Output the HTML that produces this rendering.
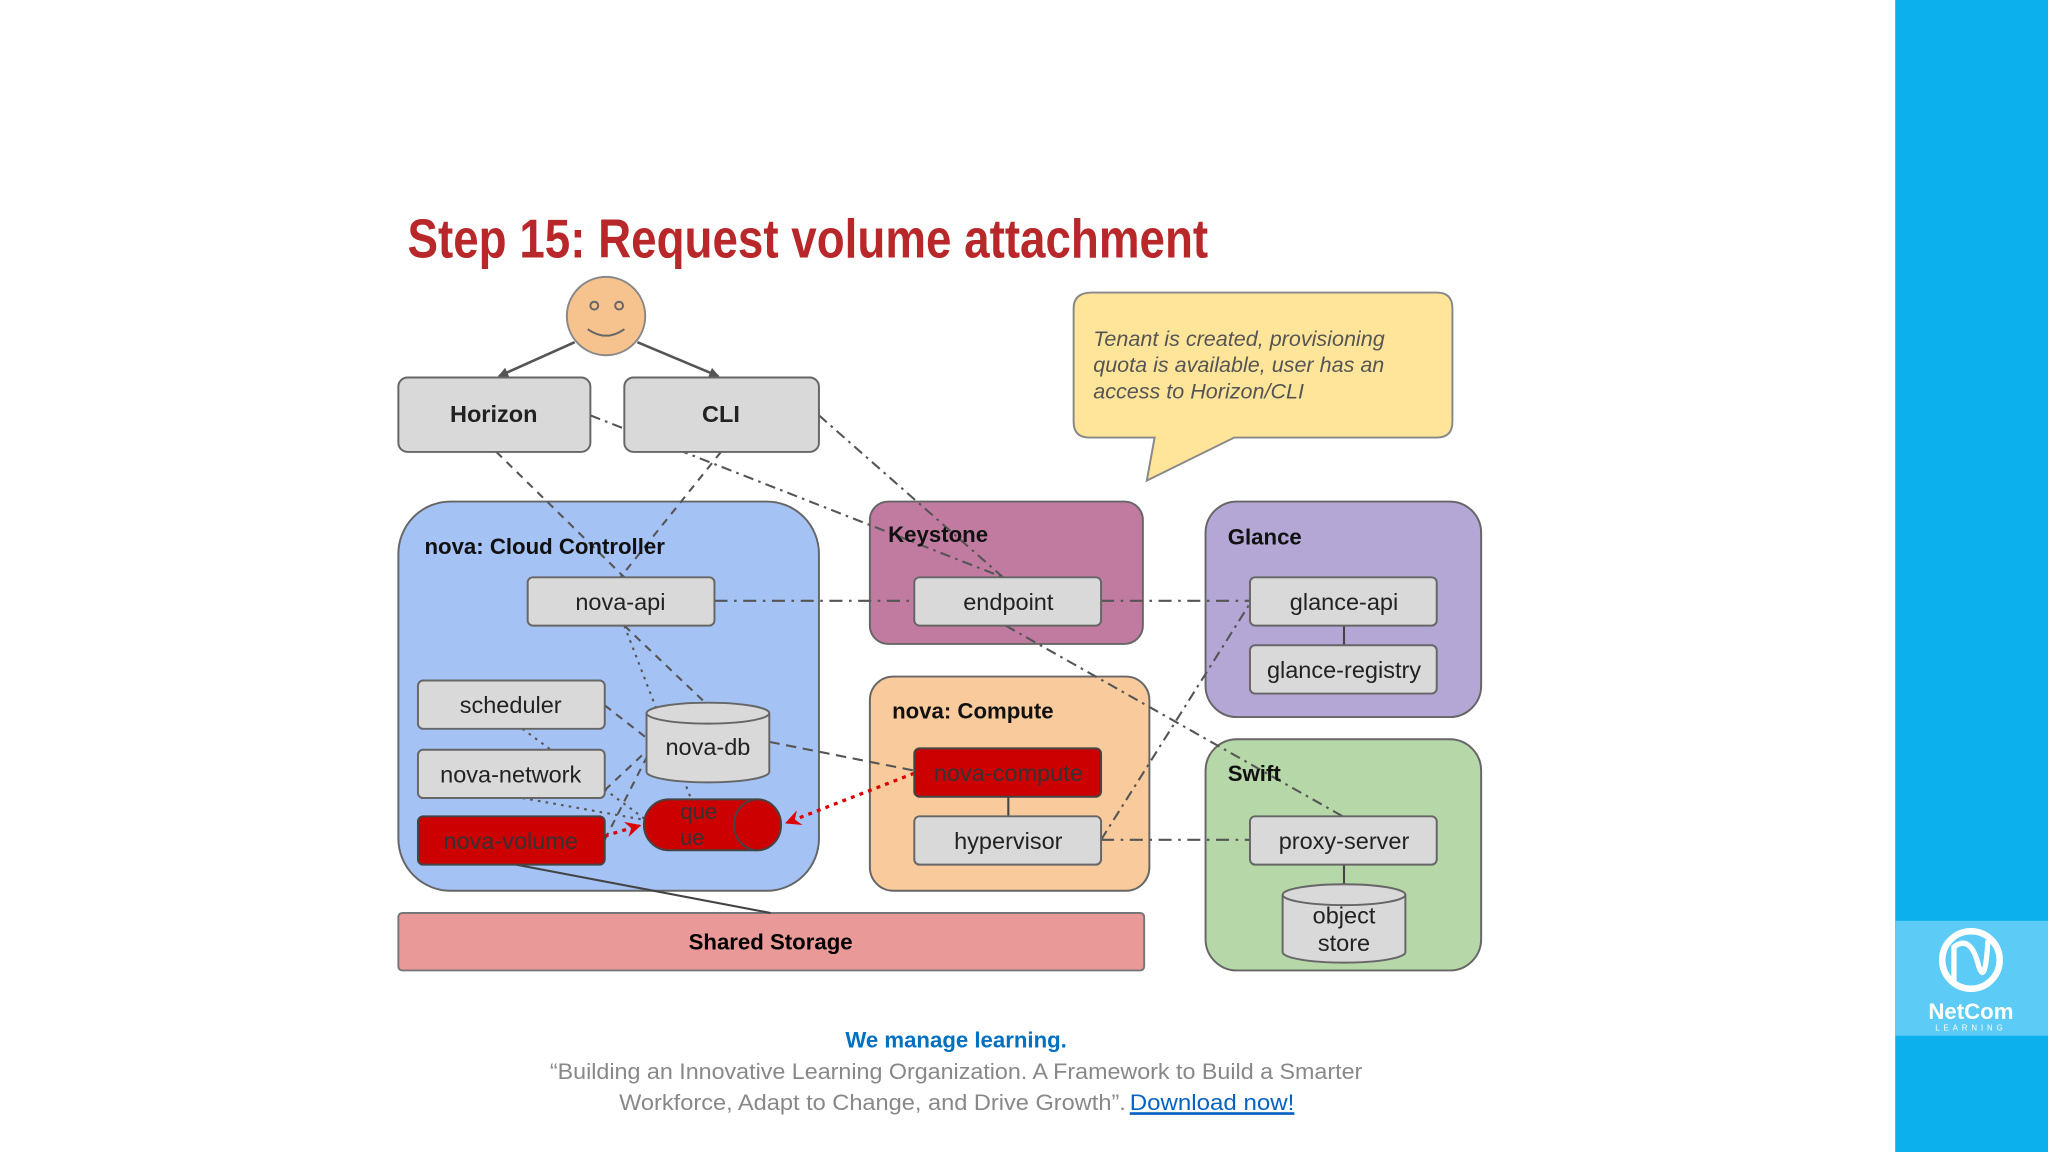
<!DOCTYPE html>
<html><head><meta charset="utf-8"><style>
html,body{margin:0;padding:0;background:#fff;overflow:hidden}
svg{display:block}
text{font-family:"Liberation Sans",sans-serif}
</style></head><body>
<svg width="2048" height="1152" viewBox="0 0 1568 882" xmlns="http://www.w3.org/2000/svg">
<defs>
<marker id="ah" markerWidth="8" markerHeight="8" refX="7" refY="4" orient="auto" markerUnits="userSpaceOnUse"><path d="M0,0 L8,4 L0,8 z" fill="#555"/></marker>
<marker id="ahr" markerWidth="12" markerHeight="12" refX="11" refY="6" orient="auto" markerUnits="userSpaceOnUse"><path d="M0,0 L12,6 L0,12 L4,6 z" fill="#d00"/></marker>
</defs>
<rect width="1568" height="882" fill="#fff"/>
<rect x="1451" y="0" width="117" height="882" fill="#0cb0ec"/>
<rect x="1451" y="705" width="117" height="88" fill="#5ccbf5"/>
<circle cx="1509" cy="735" r="22" fill="none" stroke="#fff" stroke-width="5"/>
<path d="M1496,752 L1496,725 Q1509,715 1515,740 Q1520,755 1522,720" fill="none" stroke="#fff" stroke-width="4"/>
<text x="1509" y="780" font-size="17" fill="#fff" text-anchor="middle" font-weight="bold">NetCom</text>
<text x="1509" y="789" font-size="6" fill="#fff" text-anchor="middle" letter-spacing="3">LEARNING</text>

<text x="312" y="197" font-size="42" font-weight="bold" fill="#b8282a" font-family="Liberation Sans Narrow, Liberation Sans, sans-serif" textLength="613" lengthAdjust="spacingAndGlyphs">Step 15: Request volume attachment</text>

<!-- containers -->
<rect x="305" y="384" width="322" height="298" rx="40" fill="#a4c2f4" stroke="#666" stroke-width="1.5"/>
<rect x="666" y="384" width="209" height="109" rx="14" fill="#c27ba0" stroke="#666" stroke-width="1.5"/>
<rect x="666" y="518" width="214" height="164" rx="18" fill="#f9cb9c" stroke="#666" stroke-width="1.5"/>
<rect x="923" y="384" width="211" height="165" rx="24" fill="#b4a7d6" stroke="#666" stroke-width="1.5"/>
<rect x="923" y="566" width="211" height="177" rx="24" fill="#b6d7a8" stroke="#666" stroke-width="1.5"/>
<rect x="305" y="699" width="571" height="44" rx="3" fill="#ea9999" stroke="#777" stroke-width="1.5"/>
<text x="590" y="727" font-size="17" font-weight="bold" text-anchor="middle">Shared Storage</text>

<!-- callout -->
<path d="M836,224 H1100 Q1112,224 1112,236 V323 Q1112,335 1100,335 H945 L878,368 L884,335 H834 Q822,335 822,323 V236 Q822,224 836,224 Z" fill="#ffe599" stroke="#888" stroke-width="1.5"/>
<text font-size="16.5" font-style="italic" fill="#555"><tspan x="837" y="265">Tenant is created, provisioning</tspan><tspan x="837" y="285">quota is available, user has an</tspan><tspan x="837" y="305">access to Horizon/CLI</tspan></text>

<!-- face -->
<circle cx="464" cy="242" r="30" fill="#f6c28e" stroke="#888" stroke-width="1.5"/>
<circle cx="455" cy="234" r="3" fill="none" stroke="#666" stroke-width="1.5"/>
<circle cx="474" cy="234" r="3" fill="none" stroke="#666" stroke-width="1.5"/>
<path d="M450,252 Q464,262 478,252" fill="none" stroke="#666" stroke-width="1.5"/>
<line x1="440" y1="262" x2="382" y2="288" stroke="#555" stroke-width="2" marker-end="url(#ah)"/>
<line x1="488" y1="262" x2="550" y2="288" stroke="#555" stroke-width="2" marker-end="url(#ah)"/>

<!-- connectors -->
<g fill="none" stroke="#555" stroke-width="1.6">
<line x1="380" y1="346" x2="478" y2="442" stroke-dasharray="6,5"/>
<line x1="552" y1="346" x2="475" y2="442" stroke-dasharray="6,5"/>
<line x1="452" y1="318" x2="768" y2="442" stroke-dasharray="8,4,2,4"/>
<line x1="627" y1="318" x2="768" y2="442" stroke-dasharray="8,4,2,4"/>
<line x1="547" y1="460" x2="700" y2="460" stroke-dasharray="10,5,2,5"/>
<line x1="843" y1="460" x2="957" y2="460" stroke-dasharray="10,5,2,5"/>
<line x1="843" y1="643" x2="957" y2="643" stroke-dasharray="10,5,2,5"/>
<line x1="770" y1="479" x2="1028" y2="625" stroke-dasharray="8,4,2,4"/>
<line x1="843" y1="643" x2="957" y2="462" stroke-dasharray="8,4,2,4"/>
<line x1="478" y1="479" x2="542" y2="540" stroke-dasharray="6,5"/>
<line x1="478" y1="479" x2="530" y2="614" stroke-dasharray="2,4"/>
<line x1="589" y1="568" x2="700" y2="590" stroke-dasharray="8,5"/>
<line x1="463" y1="540" x2="495" y2="565" stroke-dasharray="6,5"/>
<line x1="463" y1="605" x2="495" y2="575" stroke-dasharray="6,5"/>
<line x1="463" y1="643" x2="495" y2="580" stroke-dasharray="6,5"/>
<line x1="400" y1="558" x2="495" y2="628" stroke-dasharray="2,4"/>
<line x1="400" y1="611" x2="495" y2="628" stroke-dasharray="2,4"/>
<line x1="395" y1="662" x2="590" y2="699" stroke="#444"/>
<line x1="772" y1="610" x2="772" y2="625" stroke="#444"/>
<line x1="1029" y1="479" x2="1029" y2="494" stroke="#444"/>
<line x1="1029" y1="662" x2="1029" y2="680" stroke="#444"/>
</g>
<line x1="463" y1="640" x2="490" y2="632" stroke="#d00" stroke-width="2.5" stroke-dasharray="3,4" marker-end="url(#ahr)"/>
<line x1="700" y1="592" x2="602" y2="630" stroke="#d00" stroke-width="2.5" stroke-dasharray="3,4" marker-end="url(#ahr)"/>

<!-- boxes -->
<g stroke="#666" stroke-width="1.5" fill="#d9d9d9">
<rect x="305" y="289" width="147" height="57" rx="7"/>
<rect x="478" y="289" width="149" height="57" rx="7"/>
<rect x="404" y="442" width="143" height="37" rx="4"/>
<rect x="320" y="521" width="143" height="37" rx="4"/>
<rect x="320" y="574" width="143" height="37" rx="4"/>
<rect x="320" y="625" width="143" height="37" rx="4" fill="#cc0000" stroke="#444"/>
<rect x="700" y="442" width="143" height="37" rx="4"/>
<rect x="700" y="573" width="143" height="37" rx="4" fill="#cc0000" stroke="#444"/>
<rect x="700" y="625" width="143" height="37" rx="4"/>
<rect x="957" y="442" width="143" height="37" rx="4"/>
<rect x="957" y="494" width="143" height="37" rx="4"/>
<rect x="957" y="625" width="143" height="37" rx="4"/>
<!-- nova-db -->
<path d="M495,546 V591 A47,8 0 0 0 589,591 V546" />
<ellipse cx="542" cy="546" rx="47" ry="8"/>
<!-- object store -->
<path d="M982,685 V729 A47,8 0 0 0 1076,729 V685"/>
<ellipse cx="1029" cy="685" rx="47" ry="8"/>
<!-- queue -->
<path d="M580,612 H512 A19,19.5 0 0 0 512,651 H580" fill="#cc0000" stroke="#444"/>
<ellipse cx="580" cy="631.5" rx="18" ry="19.5" fill="#cc0000" stroke="#444"/>
</g>

<g font-size="18" text-anchor="middle" fill="#222">
<text x="378" y="323" font-weight="bold">Horizon</text>
<text x="552" y="323" font-weight="bold">CLI</text>
<text x="475" y="467">nova-api</text>
<text x="391" y="546">scheduler</text>
<text x="391" y="599">nova-network</text>
<text x="391" y="650" fill="#333">nova-volume</text>
<text x="542" y="578">nova-db</text>
<text x="772" y="467">endpoint</text>
<text x="772" y="598" fill="#333">nova-compute</text>
<text x="772" y="650">hypervisor</text>
<text x="1029" y="467">glance-api</text>
<text x="1029" y="519">glance-registry</text>
<text x="1029" y="650">proxy-server</text>
<text x="1029" y="707">object</text>
<text x="1029" y="728">store</text>
<text x="535" y="627" fill="#333" font-size="17">que</text>
<text x="530" y="647" fill="#333" font-size="17">ue</text>
</g>
<g font-size="17" font-weight="bold" fill="#111">
<text x="325" y="424">nova: Cloud Controller</text>
<text x="680" y="415">Keystone</text>
<text x="683" y="550">nova: Compute</text>
<text x="940" y="417">Glance</text>
<text x="940" y="598">Swift</text>
</g>

<text x="732" y="802" font-size="17" font-weight="bold" fill="#0070c0" text-anchor="middle">We manage learning.</text>
<text x="732" y="826" font-size="17" fill="#888" text-anchor="middle" textLength="622" lengthAdjust="spacingAndGlyphs">“Building an Innovative Learning Organization. A Framework to Build a Smarter</text>
<text x="474" y="850" font-size="17" fill="#888" textLength="388" lengthAdjust="spacingAndGlyphs">Workforce, Adapt to Change, and Drive Growth”.</text>
<text x="865" y="850" font-size="17" fill="#0563c1" text-decoration="underline" textLength="126" lengthAdjust="spacingAndGlyphs">Download now!</text>
<line x1="865" y1="853" x2="991" y2="853" stroke="#0563c1" stroke-width="1.2"/>
</svg>
</body></html>
